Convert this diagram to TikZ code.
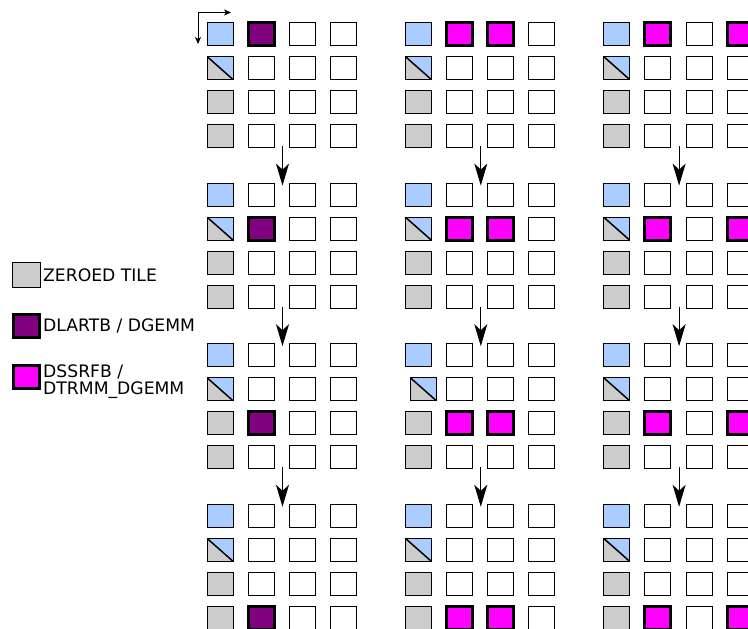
\documentclass[tikz,border=0pt]{standalone}
\usepackage{fontspec}
\setmainfont{DejaVu Sans}
\usetikzlibrary{arrows.meta}
\definecolor{tileblue}{HTML}{AACCFF}
\definecolor{tilegray}{HTML}{CCCCCC}
\definecolor{tilepurple}{HTML}{800080}
\definecolor{tilemag}{HTML}{FF00FF}
\begin{document}
\begin{tikzpicture}[x=1pt,y=-1pt,
  tile/.style={draw=black,line width=1pt,minimum width=26pt,minimum height=23pt,inner sep=0pt,outer sep=0pt,fill=white},
  zerotile/.style={tile,fill=tilegray},
  bluetile/.style={tile,fill=tileblue},
  diagtile/.style={tile,fill=tilegray,path picture={
      \fill[tileblue] (path picture bounding box.north west) -- (path picture bounding box.north east) -- (path picture bounding box.south east) -- cycle;
      \draw[line width=1.5pt] (path picture bounding box.north west) -- (path picture bounding box.south east);}},
  purpletile/.style={tile,fill=tilepurple,line width=3pt},
  magtile/.style={tile,fill=tilemag,line width=3pt},
  stagearrow/.style={line width=1.2pt,-{Stealth[length=22pt,width=13pt,inset=6pt]}},
  dirarrow/.style={line width=0.8pt,-{Stealth[length=7pt,width=6pt,inset=2pt]}},
  legendtext/.style={anchor=base west,inner sep=0pt,font=\fontsize{17.2}{17}\selectfont,align=left}
]
\useasboundingbox (0,0) rectangle (748,629);

% tiles
\foreach \c in {0,1,2} {
  \foreach \s in {0,...,3} {
    \foreach \i in {0,...,3} {
      \foreach \j in {0,...,3} {
        \pgfmathtruncatemacro\hj{\c==1 ? 2 : 3}
        \pgfmathsetmacro\dx{(\c==1 && \s==2 && \i==1 && \j==0) ? 5 : 0}
        \def\sty{tile}
        \ifnum\j=0
          \ifnum\i=0 \def\sty{bluetile}\else\ifnum\i=1 \def\sty{diagtile}\else\def\sty{zerotile}\fi\fi
        \else
          \ifnum\i=\s
            \ifnum\c=0
              \ifnum\j=1 \def\sty{purpletile}\fi
            \else
              \ifnum\j=1 \def\sty{magtile}\fi
              \ifnum\j=\hj \def\sty{magtile}\fi
            \fi
          \fi
        \fi
        \node[\sty] (t\c-\s-\i-\j) at ({206.5+198.3*\c+41.2*\j+13.5+\dx},{22+160.6*\s+34*\i+12}) {};
      }
    }
  }
}

% stage arrows
\foreach \c in {0,1,2} {
  \foreach \s in {0,1,2} {
    \coordinate (as\c-\s) at ({206.5+198.3*\c+76},{22+160.6*\s+124});
    \coordinate (ae\c-\s) at ({206.5+198.3*\c+76},{22+160.6*(\s+1)+3});
    \draw[stagearrow] (as\c-\s) -- (ae\c-\s);
  }
}

% direction arrows
\coordinate (corner) at (198,12.5);
\coordinate (hend) at (231,12.5);
\coordinate (vend) at (198,44);
\draw[dirarrow] (corner) -- (hend);
\draw[dirarrow] (corner) -- (vend);

% legend
\node[zerotile,minimum width=28pt,minimum height=25pt] (lgzero) at (26,275) {};
\node[purpletile] (lglartb) at (26,325.5) {};
\node[magtile] (lgssrfb) at (26,376.5) {};
\node[legendtext] (lgzerotext) at (43,281.7) {ZEROED TILE};
\node[legendtext] (lglartbtext) at (43,331.7) {DLARTB / DGEMM};
\node[legendtext] (lgssrfbtext) at (43,394) {DSSRFB /\\DTRMM\_DGEMM};
\end{tikzpicture}
\end{document}
